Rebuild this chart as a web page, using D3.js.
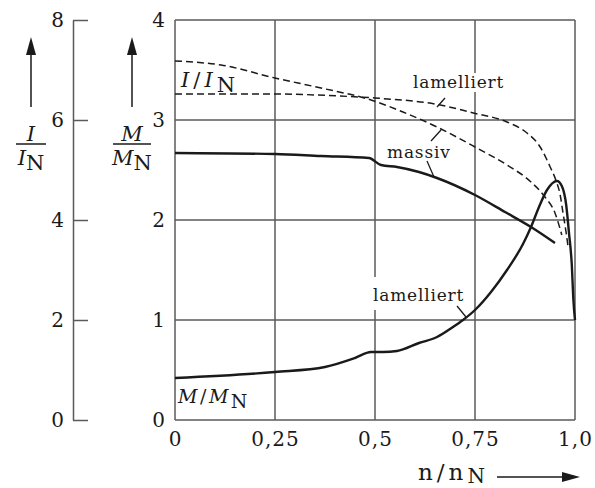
<!DOCTYPE html>
<html>
<head>
<meta charset="utf-8">
<script src="https://cdn.jsdelivr.net/npm/d3@7"></script>
<style>
  html, body { margin: 0; padding: 0; background: #fff; }
  svg text { font-family: "DejaVu Serif", serif; fill: #1a1a1a; }
</style>
</head>
<body>
<svg id="chart" width="595" height="488"></svg>
<script>
// speed ratio n/nN
const xTicks = [0, 0.25, 0.5, 0.75, 1.0];
const xTickLabels = ["0", "0,25", "0,5", "0,75", "1,0"];
const mTicks = [0, 1, 2, 3, 4];
const iTicks = [0, 2, 4, 6, 8];

// torque M/MN, solid rotor (massiv)
const massivMx = [0, 0.25, 0.365, 0.485, 0.515, 0.555, 0.61, 0.655, 0.75, 0.825, 0.89, 0.95];
const massivMy = [2.67, 2.66, 2.64, 2.62, 2.55, 2.53, 2.48, 2.42, 2.25, 2.08, 1.93, 1.77];

// torque M/MN, laminated rotor (lamelliert)
const lamMx = [0, 0.25, 0.375, 0.45, 0.49, 0.52, 0.555, 0.61, 0.655, 0.695, 0.72, 0.75, 0.79, 0.83, 0.87, 0.89, 0.91, 0.93, 0.955, 0.967, 0.978, 0.985, 0.992, 0.996, 1.0];
const lamMy = [0.42, 0.48, 0.53, 0.62, 0.68, 0.68, 0.69, 0.77, 0.83, 0.93, 1.0, 1.1, 1.28, 1.5, 1.76, 1.93, 2.13, 2.3, 2.39, 2.34, 2.15, 1.87, 1.55, 1.2, 1.0];

// current I/IN, solid rotor (massiv)
const massivIx = [0, 0.115, 0.25, 0.365, 0.49, 0.57, 0.655, 0.75, 0.83, 0.89, 0.925, 0.95, 0.967];
const massivIy = [7.18, 7.10, 6.84, 6.64, 6.40, 6.16, 5.86, 5.46, 5.10, 4.76, 4.46, 4.14, 3.70];

// current I/IN, laminated rotor (lamelliert)
const lamIx = [0, 0.25, 0.41, 0.5, 0.663, 0.746, 0.83, 0.88, 0.913, 0.938, 0.952, 0.963, 0.97, 0.978, 0.983];
const lamIy = [6.52, 6.52, 6.48, 6.44, 6.30, 6.14, 5.96, 5.74, 5.46, 5.06, 4.80, 4.50, 4.14, 3.74, 3.44];

const svg = d3.select("#chart");
const ink = "#1a1a1a";
const gridColor = "#5a5a5a";

const x = d3.scaleLinear().domain([0, 1]).range([175, 575]);
const yM = d3.scaleLinear().domain([0, 4]).range([420, 20]);
const yI = d3.scaleLinear().domain([0, 8]).range([420, 20]);

// grid
const grid = svg.append("g").attr("stroke", gridColor).attr("stroke-width", 1.5);
grid.selectAll("line.v").data(xTicks).join("line")
  .attr("x1", d => x(d)).attr("x2", d => x(d))
  .attr("y1", yM(0)).attr("y2", yM(4));
grid.selectAll("line.h").data(mTicks).join("line")
  .attr("x1", x(0)).attr("x2", x(1))
  .attr("y1", d => yM(d)).attr("y2", d => yM(d));

// torque axis labels
const mAxis = svg.append("g").attr("transform", `translate(${x(0)},0)`)
  .call(d3.axisLeft(yM).tickValues(mTicks).tickFormat(d3.format("d")).tickSize(0).tickPadding(9));
mAxis.select(".domain").remove();

// current axis, separate on the left
const iAxis = svg.append("g").attr("transform", "translate(73,0)")
  .call(d3.axisLeft(yI).tickValues(iTicks).tickFormat(d3.format("d")).tickSizeInner(-15).tickSizeOuter(0).tickPadding(8));
iAxis.selectAll(".domain, .tick line").attr("stroke", gridColor).attr("stroke-width", 1.5);

// speed axis labels
const xAxis = svg.append("g").attr("transform", `translate(0,${yM(0)})`)
  .call(d3.axisBottom(x).tickValues(xTicks).tickFormat((d, i) => xTickLabels[i]).tickSize(0).tickPadding(12));
xAxis.select(".domain").remove();

[mAxis, iAxis, xAxis].forEach(g => g.selectAll("text")
  .style("font-family", "'DejaVu Serif', serif").style("font-size", "20px")
  .style("letter-spacing", "1px").attr("fill", ink));

// label backgrounds that interrupt the grid
svg.append("rect").attr("x", 411).attr("y", 73).attr("width", 96).attr("height", 19).attr("fill", "#fff");
svg.append("rect").attr("x", 371).attr("y", 277).attr("width", 96).attr("height", 33).attr("fill", "#fff");

// curves
const lineM = d3.line().x(d => x(d[0])).y(d => yM(d[1])).curve(d3.curveMonotoneX);
const lineI = d3.line().x(d => x(d[0])).y(d => yI(d[1])).curve(d3.curveMonotoneX);
const zip = (a, b) => a.map((v, i) => [v, b[i]]);

svg.append("path").datum(zip(massivIx, massivIy)).attr("d", lineI)
  .attr("fill", "none").attr("stroke", ink).attr("stroke-width", 1.5).attr("stroke-dasharray", "7,4");
svg.append("path").datum(zip(lamIx, lamIy)).attr("d", lineI)
  .attr("fill", "none").attr("stroke", ink).attr("stroke-width", 1.5).attr("stroke-dasharray", "7,4");
svg.append("path").datum(zip(massivMx, massivMy)).attr("d", lineM)
  .attr("fill", "none").attr("stroke", ink).attr("stroke-width", 2.4);
svg.append("path").datum(zip(lamMx, lamMy)).attr("d", lineM)
  .attr("fill", "none").attr("stroke", ink).attr("stroke-width", 2.4);

// curve captions with leader lines
const lbl = (tx, ty, str, size) => svg.append("text").attr("x", tx).attr("y", ty)
  .style("font-size", size + "px").style("letter-spacing", "0.8px").text(str);
lbl(413, 88, "lamelliert", 17);
lbl(387, 158, "massiv", 17);
lbl(373, 301, "lamelliert", 17);

const leaders = [[437, 107, 445, 98], [431, 141, 441, 130], [427, 161, 434, 177], [457, 306, 466, 317]];
svg.selectAll("line.leader").data(leaders).join("line")
  .attr("x1", d => d[0]).attr("y1", d => d[1]).attr("x2", d => d[2]).attr("y2", d => d[3])
  .attr("stroke", ink).attr("stroke-width", 1.3);

// ratio labels: italic symbol, slash, italic symbol, upright subscript N
function ratio(tx, ty, sym, size, spacing) {
  const t = svg.append("text").attr("x", tx).attr("y", ty)
    .style("font-size", size + "px").style("letter-spacing", spacing + "px");
  t.append("tspan").style("font-style", "italic").text(sym);
  t.append("tspan").text("/");
  t.append("tspan").style("font-style", "italic").text(sym);
  t.append("tspan").attr("dy", 5).text("N");
}
ratio(181, 87, "I", 21, 4);
ratio(178, 403, "M", 19, 2.5);

// speed axis title with arrow
const nt = svg.append("text").attr("x", 418).attr("y", 480).style("font-size", "23px");
nt.append("tspan").style("letter-spacing", "4px").text("n/n");
nt.append("tspan").attr("dy", 3).style("font-size", "20px").text("N");
svg.append("line").attr("x1", 497).attr("x2", 566).attr("y1", 477).attr("y2", 477)
  .attr("stroke", ink).attr("stroke-width", 1.5);
svg.append("path").attr("d", "M580,477 L562,472 L562,482 Z").attr("fill", ink);

// vertical axis titles: arrow above a fraction
function fractionTitle(cx, sym, barHalf) {
  svg.append("line").attr("x1", cx).attr("x2", cx).attr("y1", 107).attr("y2", 52)
    .attr("stroke", ink).attr("stroke-width", 1.5);
  svg.append("path").attr("d", `M${cx},37 L${cx - 5},55 L${cx + 5},55 Z`).attr("fill", ink);
  svg.append("text").attr("x", cx).attr("y", 141).attr("text-anchor", "middle")
    .style("font-size", "21px").style("font-style", "italic").text(sym);
  svg.append("line").attr("x1", cx - barHalf).attr("x2", cx + barHalf).attr("y1", 144).attr("y2", 144)
    .attr("stroke", ink).attr("stroke-width", 1.5);
  const b = svg.append("text").attr("x", cx).attr("y", 165).attr("text-anchor", "middle")
    .style("font-size", "21px");
  b.append("tspan").style("font-style", "italic").text(sym);
  b.append("tspan").attr("dy", 5).text("N");
}
fractionTitle(31, "I", 15);
fractionTitle(132, "M", 19);
</script>
</body>
</html>
